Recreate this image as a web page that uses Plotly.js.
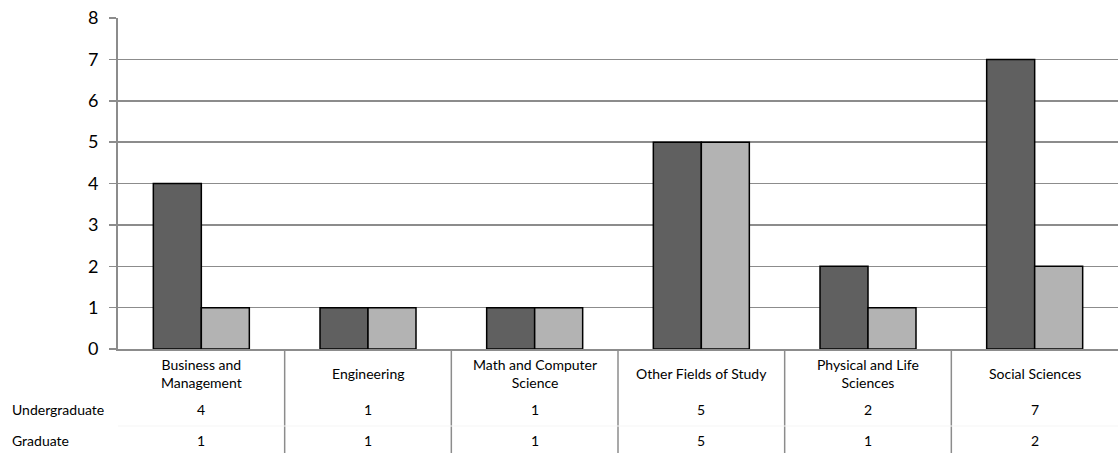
<!DOCTYPE html>
<html>
<head>
<meta charset="utf-8">
<script src="https://cdn.plot.ly/plotly-3.0.1.min.js"></script>
<style>html,body{margin:0;padding:0;background:#fff;}#chart{width:1118px;height:453px;}</style>
</head>
<body>
<div id="chart"></div>
<script>
var categories = ["Business and<br>Management", "Engineering", "Math and Computer<br>Science", "Other Fields of Study", "Physical and Life<br>Sciences", "Social Sciences"];
var seriesNames = ["Undergraduate", "Graduate"];
var undergraduate = [4, 1, 1, 5, 2, 7];
var graduate = [1, 1, 1, 5, 1, 2];
var yTicks = [0, 1, 2, 3, 4, 5, 6, 7, 8];

var W = 1118, H = 453, ML = 118, MR = 0, MT = 18, MB = 104;
var plotH = H - MT - MB;
function py(px) { return (H - MB - px) / plotH; } // pixel y -> paper y
var font = "Lato, 'Open Sans', sans-serif";
var fs = 14;
var idx = categories.map(function (_, i) { return i; });

var traces = [
  { type: 'bar', name: seriesNames[0], x: idx, y: undergraduate,
    marker: { color: '#606060', line: { color: '#000', width: 1.5 } }, hoverinfo: 'y' },
  { type: 'bar', name: seriesNames[1], x: idx, y: graduate,
    marker: { color: '#b3b3b3', line: { color: '#000', width: 1.5 } }, hoverinfo: 'y' }
];

var annotations = [];
var shapes = [];
categories.forEach(function (c, i) {
  annotations.push({ x: i, y: py(373), xref: 'x', yref: 'paper', text: c, showarrow: false,
    font: { family: font, size: fs, color: '#000' }, xanchor: 'center', yanchor: 'middle', align: 'center' });
  annotations.push({ x: i, y: py(410), xref: 'x', yref: 'paper', text: String(undergraduate[i]), showarrow: false,
    font: { family: font, size: fs, color: '#000' }, xanchor: 'center', yanchor: 'middle' });
  annotations.push({ x: i, y: py(440), xref: 'x', yref: 'paper', text: String(graduate[i]), showarrow: false,
    font: { family: font, size: fs, color: '#000' }, xanchor: 'center', yanchor: 'middle' });
  if (i < categories.length - 1) {
    shapes.push({ type: 'line', xref: 'x', yref: 'paper', x0: i + 0.5, x1: i + 0.5, y0: 0, y1: py(453),
      line: { color: '#8c8c8c', width: 1.5 } });
  }
});
seriesNames.forEach(function (s, k) {
  annotations.push({ x: (10 - ML) / (W - ML - MR), y: py(k === 0 ? 410 : 440), xref: 'paper', yref: 'paper', text: s, showarrow: false,
    font: { family: font, size: fs, color: '#000' }, xanchor: 'left', yanchor: 'middle' });
});
// faint row separator
shapes.push({ type: 'line', xref: 'paper', yref: 'paper', x0: 0, x1: 1, y0: py(426), y1: py(426),
  line: { color: '#f5f5f5', width: 1 } });

var layout = {
  width: W, height: H,
  margin: { l: ML, r: MR, t: MT, b: MB, pad: 0 },
  paper_bgcolor: '#fff', plot_bgcolor: '#fff',
  showlegend: false,
  barmode: 'group', bargap: 0.424, bargroupgap: 0,
  xaxis: { range: [-0.5, 5.5], showticklabels: false, showgrid: false, zeroline: false,
    showline: true, linecolor: '#8c8c8c', linewidth: 2, ticks: '', fixedrange: true },
  yaxis: { range: [0, 8], tickvals: yTicks, ticktext: yTicks.map(String), showgrid: true, gridcolor: '#8c8c8c', gridwidth: 1.5,
    zeroline: false, showline: true, linecolor: '#8c8c8c', linewidth: 2, ticks: 'outside', ticklen: 7, tickwidth: 1.5,
    tickcolor: '#8c8c8c', tickfont: { family: font, size: 18, color: '#000' }, ticklabelstandoff: 7, fixedrange: true },
  annotations: annotations,
  shapes: shapes
};
Plotly.newPlot('chart', traces, layout, { displayModeBar: false, staticPlot: true });
</script>
</body>
</html>
